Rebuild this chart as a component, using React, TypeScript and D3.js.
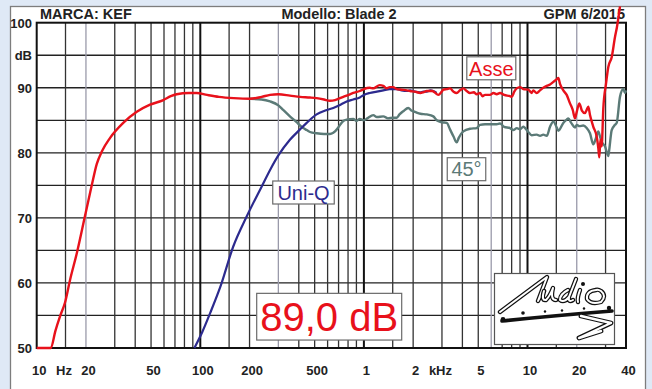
import React from 'react';
import * as d3 from 'd3';

const W = 652;
const H = 389;

// Frequency response, on-axis (Asse): [Hz, dB]
const asse: [number, number][] = [
  [10, 50], [12.2, 50], [13.0, 52.6], [13.9, 54.9], [14.9, 57.0], [16.0, 60.5], [17.6, 64.6],
  [19.7, 70.2], [21.7, 75.0], [23.3, 78.3], [25.0, 80.2], [28.1, 82.3], [33.8, 84.6],
  [40.9, 86.3], [49.3, 87.4], [59.4, 88.1], [66, 88.7], [71.7, 89.0], [85, 89.2], [95, 89.2],
  [110, 88.9], [130, 88.6], [160, 88.4], [201, 88.3], [237, 88.6], [267, 88.9], [300, 89.0],
  [353, 88.8], [407, 88.6], [468, 88.5], [514, 88.4], [570, 88.2], [620, 88.0], [666, 88.1],
  [714, 88.4], [748, 88.6], [820, 89.0], [861, 89.2], [944, 89.5], [1000, 89.8], [1085, 90.0],
  [1141, 89.9], [1249, 90.4], [1314, 90.3], [1372, 89.9], [1440, 90.1], [1507, 90.1],
  [1587, 89.8], [1700, 89.7], [1831, 89.6], [1913, 89.5], [2050, 89.4], [2215, 89.2],
  [2307, 89.3], [2420, 89.5], [2620, 89.5], [2700, 89.3], [2850, 88.9], [2989, 89.4],
  [3057, 89.7], [3208, 89.8], [3360, 89.9], [3530, 89.4], [3692, 89.2], [3867, 89.6],
  [4052, 89.9], [4250, 89.5], [4452, 89.2], [4700, 89.3], [4893, 89.0], [5125, 89.2],
  [5300, 88.7], [5500, 88.9], [5900, 88.9], [6200, 89.2], [6482, 89.0], [6790, 89.2],
  [7200, 88.9], [7816, 88.7], [8005, 88.6], [8300, 89.4], [8590, 89.9], [9000, 90.1],
  [9426, 89.8], [10110, 89.7], [10610, 89.2], [10850, 89.6], [11380, 89.2], [11930, 89.6],
  [12490, 90.0], [13110, 90.3], [13730, 90.5], [14380, 90.9], [15090, 91.3], [15430, 91.5],
  [15800, 90.6], [16550, 89.6], [17360, 88.9], [18190, 87.6], [18900, 86.6], [19510, 85.3],
  [20000, 86.3], [20730, 87.6], [21500, 86.5], [22460, 86.1], [23010, 86.6], [23530, 87.1],
  [24100, 85.8], [25250, 84.0], [26490, 82.5], [27100, 80.7], [27470, 79.3], [27900, 82.0],
  [28410, 81.0], [29060, 86.8], [30180, 90.6], [31180, 93.2], [32710, 94.7], [34260, 97.8],
  [35200, 99.3], [36760, 102.5],
];

// Uni-Q driver response: [Hz, dB]
const uniQ: [number, number][] = [
  [92, 50], [103, 52.5], [115, 55.4], [133, 59.5], [159, 65.6], [192, 70.2], [237, 74.8],
  [270, 77.6], [300, 79.6], [353, 82.0], [407, 83.6], [447, 84.6], [514, 85.9], [580, 86.5],
  [650, 86.9], [720, 87.4], [785, 87.9], [861, 88.2], [944, 88.5], [1000, 88.9], [1085, 89.2],
  [1200, 89.4], [1314, 89.6], [1440, 89.8], [1587, 89.8], [1700, 89.6], [1831, 89.5],
  [1913, 89.6], [2050, 89.4], [2215, 89.3], [2307, 89.4], [2420, 89.4], [2550, 89.6],
  [2656, 89.5], [2786, 89.2],
];

// Off-axis 45° response: [Hz, dB]
const off45: [number, number][] = [
  [201, 88.3], [237, 88.2], [267, 87.9], [300, 87.3], [321, 86.6], [353, 85.6], [388, 84.7],
  [407, 84.2], [426, 83.8], [447, 83.5], [468, 83.2], [514, 83.0], [570, 82.9], [620, 82.9],
  [650, 83.1], [666, 83.3], [697, 83.9], [748, 84.9], [785, 85.1], [861, 85.2], [900, 84.9],
  [944, 85.2], [1000, 85.0], [1050, 85.3], [1141, 85.8], [1200, 85.5], [1314, 85.6],
  [1400, 85.3], [1507, 85.4], [1587, 85.4], [1650, 85.9], [1741, 86.4], [1868, 86.9],
  [1950, 86.5], [2050, 86.3], [2215, 86.0], [2420, 85.9], [2656, 85.6], [2786, 85.0],
  [2989, 84.7], [3208, 84.6], [3360, 83.6], [3530, 82.5], [3692, 81.6], [3800, 82.3],
  [4052, 83.3], [4452, 83.7], [4893, 83.8], [5125, 84.3], [5500, 84.4], [5900, 84.4],
  [6482, 84.4], [6790, 84.5], [7200, 84.0], [7816, 83.8], [8190, 83.5], [8600, 83.8],
  [9000, 83.6], [9426, 84.0], [10110, 83.2], [10610, 82.7], [11380, 82.8], [11930, 82.6],
  [12490, 82.8], [13110, 82.6], [13730, 84.0], [14380, 84.8], [15090, 83.9], [15430, 83.4],
  [16550, 84.6], [17360, 85.1], [17760, 85.3], [18500, 84.6], [19510, 83.9], [20000, 84.3],
  [20730, 84.1], [21940, 84.2], [23010, 83.8], [24100, 83.0], [25250, 81.3], [26000, 82.0],
  [27090, 83.3], [27750, 82.5], [28410, 81.7], [29760, 81.0], [31180, 79.5], [31600, 80.5],
  [32710, 83.5], [34260, 84.3], [35090, 84.6], [36760, 88.6], [38510, 89.8], [39450, 89.2],
  [40000, 89.6],
];

// Vertical grid frequencies
const gridFreqs = [
  15, 20, 30, 40, 50, 60, 70, 80, 90,
  100, 150, 200, 300, 400, 500, 600, 700, 800, 900,
  1000, 1500, 2000, 3000, 4000, 5000, 6000, 7000, 8000, 9000,
  10000, 15000, 20000, 30000,
];
const decadeFreqs = [100, 1000, 10000];
const greyFreqs = [20, 300, 6000, 20000];

// Horizontal grid every 5 dB
const gridDb = [55, 60, 65, 70, 75, 80, 85, 90, 95];

const xTickLabels: [number, string][] = [
  [10, '10'], [20, '20'], [50, '50'], [100, '100'], [200, '200'], [500, '500'],
  [1000, '1'], [2000, '2'], [5000, '5'], [10000, '10'], [20000, '20'], [40000, '40'],
];
const xUnitLabels: [number, string][] = [[15, 'Hz'], [3000, 'kHz']];
const yTickLabels: [number, string][] = [
  [100, '100'], [95, 'dB'], [90, '90'], [80, '80'], [70, '70'], [60, '60'], [50, '50'],
];

const RED = '#e8111b';
const BLUE = '#2c2a8e';
const GREY = '#5b7a77';

const x = d3.scaleLog().domain([10, 40000]).range([36.7, 626]);
const y = d3.scaleLinear().domain([50, 100]).range([348, 22.7]);

const line = d3
  .line<[number, number]>()
  .x((d) => x(d[0]))
  .y((d) => y(d[1]))
  .curve(d3.curveMonotoneX);

const font = '"Liberation Sans", Arial, sans-serif';

function Label({ cx, cy, w, h, text, color, size }: any) {
  return (
    <g>
      <rect x={cx - w / 2} y={cy - h / 2} width={w} height={h} fill="#fff" stroke="#6a6a6a" strokeWidth={1.2} />
      <text x={cx} y={cy + size * 0.36} textAnchor="middle" fontFamily={font} fontSize={size} fill={color}>
        {text}
      </text>
    </g>
  );
}

function Logo() {
  // Outlined script strokes of the magazine mark
  const outline = (d: string, key: string, w = 4.4) => (
    <g key={key}>
      <path d={d} fill="none" stroke="#111" strokeWidth={w} strokeLinecap="round" strokeLinejoin="round" />
      <path d={d} fill="none" stroke="#fff" strokeWidth={w - 2.4} strokeLinecap="round" strokeLinejoin="round" />
    </g>
  );
  return (
    <g>
      <rect x={494.5} y={273.5} width={120} height={71} fill="#fff" stroke="#555" strokeWidth={1.2} />
      {outline('M500,312 L547,277 L538,301 Q540,296 544,291', 'a')}
      {outline('M544,291 Q541,301 546,300 Q550,296 553,288 Q550,300 556,300', 'u')}
      {outline('M568,290 Q560,294 560,300 Q564,303 569,297 L576,279 M569,297 Q568,303 573,300', 'd')}
      {outline('M580,290 Q577,298 578,302', 'i')}
      {outline('M596,290 Q586,291 587,299 Q591,305 601,302 Q607,296 601,291 Q598,289 596,290', 'o')}
      <circle cx={583} cy={284} r={2} fill="#111" />
      <path d="M502,321 Q550,316 612,311" fill="none" stroke="#111" strokeWidth={3.6} strokeLinecap="round" />
      <circle cx={503} cy={319.5} r={2.4} fill="#111" />
      <circle cx={523} cy={313} r={1.8} fill="#111" />
      <circle cx={545} cy={311.5} r={1.2} fill="#111" />
      <circle cx={562} cy={310.5} r={1.2} fill="#111" />
      <circle cx={584} cy={308.5} r={1.2} fill="#111" />
      <circle cx={609} cy={308} r={2.2} fill="#111" />
      {outline('M581,316 L611,323 L579,338 L601,331', 's', 4.8)}
    </g>
  );
}

export default function App() {
  const [x0, x1] = x.range();
  const [yb, yt] = y.range();
  return (
    <svg
      width={W}
      height={H}
      viewBox={`0 0 ${W} ${H}`}
      style={{ position: 'absolute', left: 0, top: 0, display: 'block' }}
    >
      <rect x={0} y={0} width={W} height={H} fill="#dfe9f6" />
      <rect x={10.5} y={6.5} width={635} height={400} fill="#fff" stroke="#7d7d7d" strokeWidth={1.3} />

      {/* Header */}
      <text x={40} y={19} fontFamily={font} fontWeight="bold" fontSize={14.5} fill="#222">
        MARCA: KEF
      </text>
      <text x={339} y={19} textAnchor="middle" fontFamily={font} fontWeight="bold" fontSize={14.5} fill="#222">
        Modello: Blade 2
      </text>
      <text x={625} y={19} textAnchor="end" fontFamily={font} fontWeight="bold" fontSize={14.5} fill="#222">
        GPM 6/2015
      </text>

      {/* Grid */}
      <g>
        {gridDb.map((v) => (
          <line key={'h' + v} x1={x0} x2={x1} y1={y(v)} y2={y(v)} stroke="#222" strokeWidth={1.3} />
        ))}
        {gridFreqs.map((f) => {
          const decade = decadeFreqs.includes(f);
          const grey = greyFreqs.includes(f);
          return (
            <line
              key={'v' + f}
              x1={x(f)}
              x2={x(f)}
              y1={yt}
              y2={yb}
              stroke={grey ? '#9a9aaa' : decade ? '#111' : '#333'}
              strokeWidth={decade ? 2 : 1.3}
            />
          );
        })}
        <rect x={x0} y={yt} width={x1 - x0} height={yb - yt} fill="none" stroke="#111" strokeWidth={2} />
      </g>

      {/* Axis labels */}
      {yTickLabels.map(([v, t]) => (
        <text key={'yl' + t} x={32} y={y(v) + 4.8} textAnchor="end" fontFamily={font} fontWeight="bold" fontSize={13} fill="#222">
          {t}
        </text>
      ))}
      {xTickLabels.map(([f, t]) => (
        <text key={'xl' + f} x={x(f) + 2.5} y={375} textAnchor="middle" fontFamily={font} fontWeight="bold" fontSize={13} fill="#222">
          {t}
        </text>
      ))}
      {xUnitLabels.map(([f, t]) => (
        <text key={'xu' + t} x={x(f) - 1.5} y={375} textAnchor="middle" fontFamily={font} fontWeight="bold" fontSize={13} fill="#222">
          {t}
        </text>
      ))}

      {/* Curves */}
      <path d={line(off45) || ''} fill="none" stroke={GREY} strokeWidth={2.4} strokeLinejoin="round" />
      <path d={line(uniQ) || ''} fill="none" stroke={BLUE} strokeWidth={2.2} strokeLinejoin="round" />
      <path d={line(asse) || ''} fill="none" stroke={RED} strokeWidth={2.4} strokeLinejoin="round" />

      {/* Series labels */}
      <Label cx={491.3} cy={68.3} w={49} h={23} text="Asse" color={RED} size={20} />
      <Label cx={466.5} cy={169.2} w={38.5} h={23} text="45°" color={GREY} size={20} />
      <Label cx={303.5} cy={192.5} w={61.5} h={23} text="Uni-Q" color={BLUE} size={20} />
      <Label cx={329.2} cy={316.7} w={145} h={46.7} text="89,0 dB" color={RED} size={40} />

      <Logo />
    </svg>
  );
}
